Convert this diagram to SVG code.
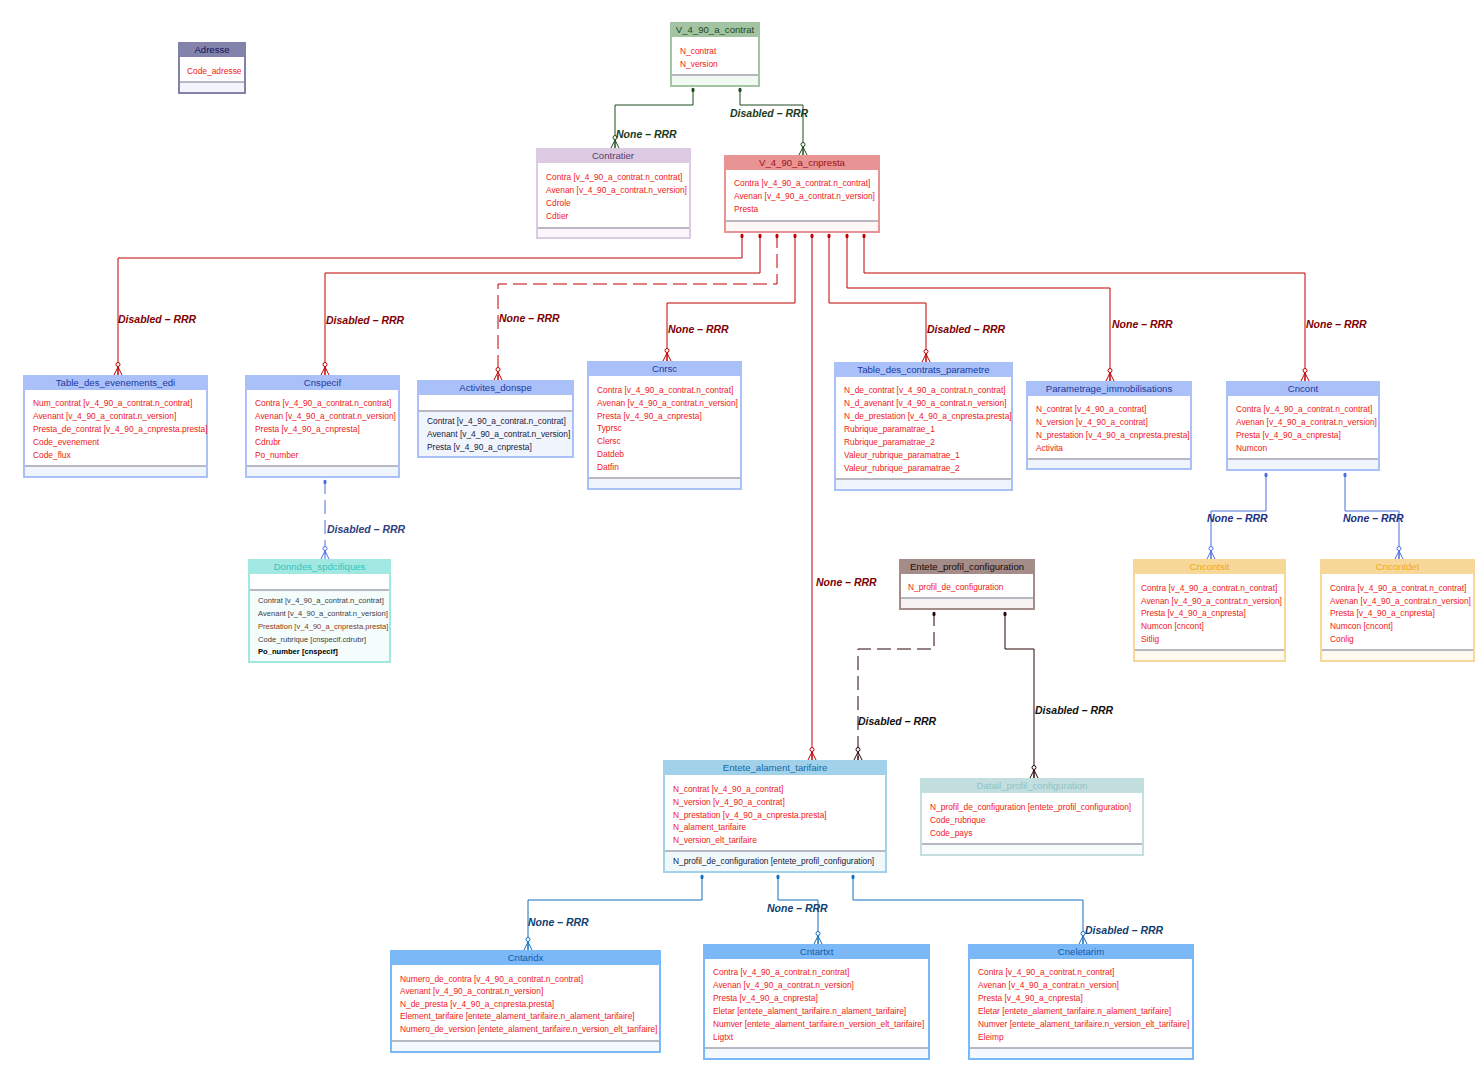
<svg xmlns="http://www.w3.org/2000/svg" width="1484" height="1074" viewBox="0 0 1484 1074">
<style>
text{font-family:"Liberation Sans",Arial,sans-serif}
.r{font-size:8.4px;fill:#f01818}
.d{font-size:8.4px;fill:#1a1a3a}
.h{font-size:9.6px;text-anchor:middle}
.sep{stroke:#b8b8c2;stroke-width:2}
.lbl{font-size:10.5px;font-style:italic;font-weight:bold}
.c{fill:none;stroke-width:1}
</style>
<defs>
<marker id="cr-g" viewBox="-14 -6 16 12" refX="0" refY="0" markerWidth="16" markerHeight="12" markerUnits="userSpaceOnUse" orient="auto"><g fill="none" stroke="#1e4a1e"><path d="M-8,0L0,-4M-8,0L0,0M-8,0L0,4"/><circle cx="-10.5" cy="0" r="2" fill="#fff"/></g></marker>
<marker id="cr-r" viewBox="-14 -6 16 12" refX="0" refY="0" markerWidth="16" markerHeight="12" markerUnits="userSpaceOnUse" orient="auto"><g fill="none" stroke="#c00000"><path d="M-8,0L0,-4M-8,0L0,0M-8,0L0,4"/><circle cx="-10.5" cy="0" r="2" fill="#fff"/></g></marker>
<marker id="cr-b" viewBox="-14 -6 16 12" refX="0" refY="0" markerWidth="16" markerHeight="12" markerUnits="userSpaceOnUse" orient="auto"><g fill="none" stroke="#4a6ee0"><path d="M-8,0L0,-4M-8,0L0,0M-8,0L0,4"/><circle cx="-10.5" cy="0" r="2" fill="#fff"/></g></marker>
<marker id="cr-k" viewBox="-14 -6 16 12" refX="0" refY="0" markerWidth="16" markerHeight="12" markerUnits="userSpaceOnUse" orient="auto"><g fill="none" stroke="#2a0606"><path d="M-8,0L0,-4M-8,0L0,0M-8,0L0,4"/><circle cx="-10.5" cy="0" r="2" fill="#fff"/></g></marker>
<marker id="cr-a" viewBox="-14 -6 16 12" refX="0" refY="0" markerWidth="16" markerHeight="12" markerUnits="userSpaceOnUse" orient="auto"><g fill="none" stroke="#1070c0"><path d="M-8,0L0,-4M-8,0L0,0M-8,0L0,4"/><circle cx="-10.5" cy="0" r="2" fill="#fff"/></g></marker>
<marker id="dt-g" viewBox="-3 -3 8 6" refX="0" refY="0" markerWidth="8" markerHeight="6" markerUnits="userSpaceOnUse" orient="auto"><ellipse cx="2" cy="0" rx="2.2" ry="1.6" fill="#1e4a1e"/></marker>
<marker id="dt-r" viewBox="-3 -3 8 6" refX="0" refY="0" markerWidth="8" markerHeight="6" markerUnits="userSpaceOnUse" orient="auto"><ellipse cx="2" cy="0" rx="2.2" ry="1.6" fill="#c00000"/></marker>
<marker id="dt-b" viewBox="-3 -3 8 6" refX="0" refY="0" markerWidth="8" markerHeight="6" markerUnits="userSpaceOnUse" orient="auto"><ellipse cx="2" cy="0" rx="2.2" ry="1.6" fill="#4a6ee0"/></marker>
<marker id="dt-k" viewBox="-3 -3 8 6" refX="0" refY="0" markerWidth="8" markerHeight="6" markerUnits="userSpaceOnUse" orient="auto"><ellipse cx="2" cy="0" rx="2.2" ry="1.6" fill="#2a0606"/></marker>
<marker id="dt-a" viewBox="-3 -3 8 6" refX="0" refY="0" markerWidth="8" markerHeight="6" markerUnits="userSpaceOnUse" orient="auto"><ellipse cx="2" cy="0" rx="2.2" ry="1.6" fill="#1070c0"/></marker>
</defs>
<rect width="1484" height="1074" fill="#fff"/>

<g id="connectors">
<path class="c" stroke="#1e4a1e" d="M693,88V105H615V148" marker-start="url(#dt-g)" marker-end="url(#cr-g)"/>
<path class="c" stroke="#1e4a1e" d="M740,88V105H803V155" marker-start="url(#dt-g)" marker-end="url(#cr-g)"/>
<path class="c" stroke="#c00000" d="M742,234V258H118V375" marker-start="url(#dt-r)" marker-end="url(#cr-r)"/>
<path class="c" stroke="#c00000" d="M760,234V273H325V375" marker-start="url(#dt-r)" marker-end="url(#cr-r)"/>
<path class="c" stroke="#c00000" stroke-dasharray="14 6" d="M777,234V284H498V380" marker-start="url(#dt-r)" marker-end="url(#cr-r)"/>
<path class="c" stroke="#c00000" d="M795,234V303H667V361" marker-start="url(#dt-r)" marker-end="url(#cr-r)"/>
<path class="c" stroke="#c00000" d="M812,234V760" marker-start="url(#dt-r)" marker-end="url(#cr-r)"/>
<path class="c" stroke="#c00000" d="M829,234V303H926V362" marker-start="url(#dt-r)" marker-end="url(#cr-r)"/>
<path class="c" stroke="#c00000" d="M847,234V288H1110V381" marker-start="url(#dt-r)" marker-end="url(#cr-r)"/>
<path class="c" stroke="#c00000" d="M864,234V273H1305V381" marker-start="url(#dt-r)" marker-end="url(#cr-r)"/>
<path class="c" stroke="#5070d0" stroke-dasharray="14 6" d="M325,480V559" marker-start="url(#dt-b)" marker-end="url(#cr-b)"/>
<path class="c" stroke="#4a6ee0" d="M1266,473V511H1211V559" marker-start="url(#dt-b)" marker-end="url(#cr-b)"/>
<path class="c" stroke="#4a6ee0" d="M1345,473V511H1399V559" marker-start="url(#dt-b)" marker-end="url(#cr-b)"/>
<path class="c" stroke="#2a0606" stroke-dasharray="14 6" d="M934,612V649H858V760" marker-start="url(#dt-k)" marker-end="url(#cr-k)"/>
<path class="c" stroke="#2a0606" d="M1005,612V649H1034V778" marker-start="url(#dt-k)" marker-end="url(#cr-k)"/>
<path class="c" stroke="#1070c0" d="M702,875V900H528V950" marker-start="url(#dt-a)" marker-end="url(#cr-a)"/>
<path class="c" stroke="#1070c0" d="M778,875V900H818V944" marker-start="url(#dt-a)" marker-end="url(#cr-a)"/>
<path class="c" stroke="#1070c0" d="M853,875V900H1083V944" marker-start="url(#dt-a)" marker-end="url(#cr-a)"/>
<text class="lbl" fill="#1a3a1a" x="616" y="138">None – RRR</text>
<text class="lbl" fill="#1a3a1a" x="730" y="117">Disabled – RRR</text>
<text class="lbl" fill="#800000" x="118" y="323">Disabled – RRR</text>
<text class="lbl" fill="#800000" x="326" y="324">Disabled – RRR</text>
<text class="lbl" fill="#800000" x="499" y="322">None – RRR</text>
<text class="lbl" fill="#800000" x="668" y="333">None – RRR</text>
<text class="lbl" fill="#800000" x="816" y="586">None – RRR</text>
<text class="lbl" fill="#800000" x="927" y="333">Disabled – RRR</text>
<text class="lbl" fill="#800000" x="1112" y="328">None – RRR</text>
<text class="lbl" fill="#800000" x="1306" y="328">None – RRR</text>
<text class="lbl" fill="#304080" x="327" y="533">Disabled – RRR</text>
<text class="lbl" fill="#203080" x="1207" y="522">None – RRR</text>
<text class="lbl" fill="#203080" x="1343" y="522">None – RRR</text>
<text class="lbl" fill="#101010" x="858" y="725">Disabled – RRR</text>
<text class="lbl" fill="#101010" x="1035" y="714">Disabled – RRR</text>
<text class="lbl" fill="#104070" x="528" y="926">None – RRR</text>
<text class="lbl" fill="#104070" x="767" y="912">None – RRR</text>
<text class="lbl" fill="#104070" x="1085" y="934">Disabled – RRR</text>
</g>

<g id="Adresse">
<rect x="179" y="43" width="66" height="50" fill="#fff" stroke="#8282aa" stroke-width="2"/>
<rect x="178" y="42" width="68" height="15" fill="#8282aa"/>
<rect x="180" y="83" width="64" height="9" fill="#f4f4fc"/>
<line class="sep" x1="180" y1="82" x2="244" y2="82"/>
<text class="h" fill="#14145a" x="212" y="53">Adresse</text>
<text class="r" x="187" y="74">Code_adresse</text>
</g>

<g id="V_4_90_a_contrat">
<rect x="671" y="23" width="88" height="63" fill="#fff" stroke="#a2c4a2" stroke-width="2"/>
<rect x="670" y="22" width="90" height="15" fill="#a2c4a2"/>
<rect x="672" y="76" width="86" height="9" fill="#f2f8f2"/>
<line class="sep" x1="672" y1="75" x2="758" y2="75"/>
<text class="h" fill="#1e4a1e" x="715" y="33">V_4_90_a_contrat</text>
<text class="r" x="680" y="54">N_contrat</text>
<text class="r" x="680" y="67">N_version</text>
</g>

<g id="Contratier">
<rect x="537" y="149" width="153" height="89" fill="#fff" stroke="#dccae2" stroke-width="2"/>
<rect x="536" y="148" width="155" height="15" fill="#dccae2"/>
<rect x="538" y="229" width="151" height="8" fill="#fcf6fc"/>
<line class="sep" x1="538" y1="228" x2="689" y2="228"/>
<text class="h" fill="#5a3a6a" x="613" y="159">Contratier</text>
<text class="r" x="546" y="180">Contra [v_4_90_a_contrat.n_contrat]</text>
<text class="r" x="546" y="193">Avenan [v_4_90_a_contrat.n_version]</text>
<text class="r" x="546" y="206">Cdrole</text>
<text class="r" x="546" y="219">Cdtier</text>
</g>

<g id="V_4_90_a_cnpresta">
<rect x="725" y="156" width="154" height="76" fill="#fff" stroke="#e89494" stroke-width="2"/>
<rect x="724" y="155" width="156" height="15" fill="#e89494"/>
<rect x="726" y="222" width="152" height="9" fill="#fff6f6"/>
<line class="sep" x1="726" y1="221" x2="878" y2="221"/>
<text class="h" fill="#a01010" x="802" y="166">V_4_90_a_cnpresta</text>
<text class="r" x="734" y="186">Contra [v_4_90_a_contrat.n_contrat]</text>
<text class="r" x="734" y="199">Avenan [v_4_90_a_contrat.n_version]</text>
<text class="r" x="734" y="212">Presta</text>
</g>

<g id="Table_des_evenements_edi">
<rect x="24" y="376" width="183" height="101" fill="#fff" stroke="#aac0f8" stroke-width="2"/>
<rect x="23" y="375" width="185" height="15" fill="#aac0f8"/>
<rect x="25" y="467" width="181" height="9" fill="#f0f4fc"/>
<line class="sep" x1="25" y1="466" x2="206" y2="466"/>
<text class="h" fill="#1a3aa0" x="115.5" y="386">Table_des_evenements_edi</text>
<text class="r" x="33" y="406">Num_contrat [v_4_90_a_contrat.n_contrat]</text>
<text class="r" x="33" y="419">Avenant [v_4_90_a_contrat.n_version]</text>
<text class="r" x="33" y="432">Presta_de_contrat [v_4_90_a_cnpresta.presta]</text>
<text class="r" x="33" y="445">Code_evenement</text>
<text class="r" x="33" y="458">Code_flux</text>
</g>

<g id="Cnspecif">
<rect x="246" y="376" width="153" height="101" fill="#fff" stroke="#aac0f8" stroke-width="2"/>
<rect x="245" y="375" width="155" height="15" fill="#aac0f8"/>
<rect x="247" y="467" width="151" height="9" fill="#f0f4fc"/>
<line class="sep" x1="247" y1="466" x2="398" y2="466"/>
<text class="h" fill="#1a3aa0" x="322.5" y="386">Cnspecif</text>
<text class="r" x="255" y="406">Contra [v_4_90_a_contrat.n_contrat]</text>
<text class="r" x="255" y="419">Avenan [v_4_90_a_contrat.n_version]</text>
<text class="r" x="255" y="432">Presta [v_4_90_a_cnpresta]</text>
<text class="r" x="255" y="445">Cdrubr</text>
<text class="r" x="255" y="458">Po_number</text>
</g>

<g id="Activites_donspe">
<rect x="418" y="381" width="155" height="76" fill="#fff" stroke="#aac0f8" stroke-width="2"/>
<rect x="417" y="380" width="157" height="15" fill="#aac0f8"/>
<rect x="419" y="412" width="153" height="44" fill="#f0f4fc"/>
<line class="sep" x1="419" y1="411" x2="572" y2="411"/>
<text class="h" fill="#1a3aa0" x="495.5" y="391">Activites_donspe</text>
<text class="d" x="427" y="424">Contrat [v_4_90_a_contrat.n_contrat]</text>
<text class="d" x="427" y="437">Avenant [v_4_90_a_contrat.n_version]</text>
<text class="d" x="427" y="450">Presta [v_4_90_a_cnpresta]</text>
</g>

<g id="Cnrsc">
<rect x="588" y="362" width="153" height="127" fill="#fff" stroke="#aac0f8" stroke-width="2"/>
<rect x="587" y="361" width="155" height="15" fill="#aac0f8"/>
<rect x="589" y="479" width="151" height="9" fill="#f0f4fc"/>
<line class="sep" x1="589" y1="478" x2="740" y2="478"/>
<text class="h" fill="#1a3aa0" x="664.5" y="372">Cnrsc</text>
<text class="r" x="597" y="393">Contra [v_4_90_a_contrat.n_contrat]</text>
<text class="r" x="597" y="406">Avenan [v_4_90_a_contrat.n_version]</text>
<text class="r" x="597" y="419">Presta [v_4_90_a_cnpresta]</text>
<text class="r" x="597" y="431">Typrsc</text>
<text class="r" x="597" y="444">Clersc</text>
<text class="r" x="597" y="457">Datdeb</text>
<text class="r" x="597" y="470">Datfin</text>
</g>

<g id="Table_des_contrats_parametre">
<rect x="835" y="363" width="177" height="127" fill="#fff" stroke="#aac0f8" stroke-width="2"/>
<rect x="834" y="362" width="179" height="15" fill="#aac0f8"/>
<rect x="836" y="480" width="175" height="9" fill="#f0f4fc"/>
<line class="sep" x1="836" y1="479" x2="1011" y2="479"/>
<text class="h" fill="#1a3aa0" x="923.5" y="373">Table_des_contrats_parametre</text>
<text class="r" x="844" y="393">N_de_contrat [v_4_90_a_contrat.n_contrat]</text>
<text class="r" x="844" y="406">N_d_avenant [v_4_90_a_contrat.n_version]</text>
<text class="r" x="844" y="419">N_de_prestation [v_4_90_a_cnpresta.presta]</text>
<text class="r" x="844" y="432">Rubrique_paramatrae_1</text>
<text class="r" x="844" y="445">Rubrique_paramatrae_2</text>
<text class="r" x="844" y="458">Valeur_rubrique_paramatrae_1</text>
<text class="r" x="844" y="471">Valeur_rubrique_paramatrae_2</text>
</g>

<g id="Parametrage_immobilisations">
<rect x="1027" y="382" width="164" height="87" fill="#fff" stroke="#aac0f8" stroke-width="2"/>
<rect x="1026" y="381" width="166" height="15" fill="#aac0f8"/>
<rect x="1028" y="460" width="162" height="8" fill="#f0f4fc"/>
<line class="sep" x1="1028" y1="459" x2="1190" y2="459"/>
<text class="h" fill="#1a3aa0" x="1109" y="392">Parametrage_immobilisations</text>
<text class="r" x="1036" y="412">N_contrat [v_4_90_a_contrat]</text>
<text class="r" x="1036" y="425">N_version [v_4_90_a_contrat]</text>
<text class="r" x="1036" y="438">N_prestation [v_4_90_a_cnpresta.presta]</text>
<text class="r" x="1036" y="451">Activita</text>
</g>

<g id="Cncont">
<rect x="1227" y="382" width="152" height="88" fill="#fff" stroke="#aac0f8" stroke-width="2"/>
<rect x="1226" y="381" width="154" height="15" fill="#aac0f8"/>
<rect x="1228" y="460" width="150" height="9" fill="#f0f4fc"/>
<line class="sep" x1="1228" y1="459" x2="1378" y2="459"/>
<text class="h" fill="#1a3aa0" x="1303" y="392">Cncont</text>
<text class="r" x="1236" y="412">Contra [v_4_90_a_contrat.n_contrat]</text>
<text class="r" x="1236" y="425">Avenan [v_4_90_a_contrat.n_version]</text>
<text class="r" x="1236" y="438">Presta [v_4_90_a_cnpresta]</text>
<text class="r" x="1236" y="451">Numcon</text>
</g>

<g id="Cncontsit">
<rect x="1134" y="560" width="151" height="101" fill="#fff" stroke="#f8d898" stroke-width="2"/>
<rect x="1133" y="559" width="153" height="15" fill="#f8d898"/>
<rect x="1135" y="651" width="149" height="9" fill="#fffaf0"/>
<line class="sep" x1="1135" y1="650" x2="1284" y2="650"/>
<text class="h" fill="#f0a818" x="1209.5" y="570">Cncontsit</text>
<text class="r" x="1141" y="591">Contra [v_4_90_a_contrat.n_contrat]</text>
<text class="r" x="1141" y="604">Avenan [v_4_90_a_contrat.n_version]</text>
<text class="r" x="1141" y="616">Presta [v_4_90_a_cnpresta]</text>
<text class="r" x="1141" y="629">Numcon [cncont]</text>
<text class="r" x="1141" y="642">Sitlig</text>
</g>

<g id="Cncontdet">
<rect x="1321" y="560" width="153" height="101" fill="#fff" stroke="#f8d898" stroke-width="2"/>
<rect x="1320" y="559" width="155" height="15" fill="#f8d898"/>
<rect x="1322" y="651" width="151" height="9" fill="#fffaf0"/>
<line class="sep" x1="1322" y1="650" x2="1473" y2="650"/>
<text class="h" fill="#f0a818" x="1397.5" y="570">Cncontdet</text>
<text class="r" x="1330" y="591">Contra [v_4_90_a_contrat.n_contrat]</text>
<text class="r" x="1330" y="604">Avenan [v_4_90_a_contrat.n_version]</text>
<text class="r" x="1330" y="616">Presta [v_4_90_a_cnpresta]</text>
<text class="r" x="1330" y="629">Numcon [cncont]</text>
<text class="r" x="1330" y="642">Conlig</text>
</g>

<g id="Donndes_spdcifiques">
<rect x="249" y="560" width="141" height="102" fill="#fff" stroke="#a2e8e2" stroke-width="2"/>
<rect x="248" y="559" width="143" height="15" fill="#a2e8e2"/>
<rect x="250" y="591" width="139" height="70" fill="#f4fcfc"/>
<line class="sep" x1="250" y1="590" x2="389" y2="590"/>
<text class="h" fill="#36c4c0" x="319.5" y="570">Donndes_spdcifiques</text>
<text style="font-size:7.6px" fill="#404040" x="258" y="603">Contrat [v_4_90_a_contrat.n_contrat]</text>
<text style="font-size:7.6px" fill="#404040" x="258" y="616">Avenant [v_4_90_a_contrat.n_version]</text>
<text style="font-size:7.6px" fill="#8a3a10" x="258" y="629">Prestation [v_4_90_a_cnpresta.presta]</text>
<text style="font-size:7.6px" fill="#404040" x="258" y="642">Code_rubrique [cnspecif.cdrubr]</text>
<text style="font-size:7.6px;font-weight:bold" fill="#000" x="258" y="654">Po_number [cnspecif]</text>
</g>

<g id="Entete_profil_configuration">
<rect x="900" y="560" width="134" height="49" fill="#fff" stroke="#a48c88" stroke-width="2"/>
<rect x="899" y="559" width="136" height="15" fill="#a48c88"/>
<rect x="901" y="599" width="132" height="9" fill="#f6f2f2"/>
<line class="sep" x1="901" y1="598" x2="1033" y2="598"/>
<text class="h" fill="#1a0a0a" x="967" y="570">Entete_profil_configuration</text>
<text class="r" x="908" y="590">N_profil_de_configuration</text>
</g>

<g id="Datail_profil_configuration">
<rect x="921" y="779" width="222" height="76" fill="#fff" stroke="#c2dede" stroke-width="2"/>
<rect x="920" y="778" width="224" height="15" fill="#c2dede"/>
<rect x="922" y="845" width="220" height="9" fill="#f8fcfc"/>
<line class="sep" x1="922" y1="844" x2="1142" y2="844"/>
<text class="h" fill="#90c4c8" x="1032" y="789">Datail_profil_configuration</text>
<text class="r" x="930" y="810">N_profil_de_configuration [entete_profil_configuration]</text>
<text class="r" x="930" y="823">Code_rubrique</text>
<text class="r" x="930" y="836">Code_pays</text>
</g>

<g id="Entete_alament_tarifaire">
<rect x="664" y="761" width="222" height="111" fill="#fff" stroke="#a2d2ea" stroke-width="2"/>
<rect x="663" y="760" width="224" height="15" fill="#a2d2ea"/>
<rect x="665" y="852" width="220" height="19" fill="#f0f8fc"/>
<line class="sep" x1="665" y1="851" x2="885" y2="851"/>
<text class="h" fill="#1268a8" x="775" y="771">Entete_alament_tarifaire</text>
<text class="r" x="673" y="792">N_contrat [v_4_90_a_contrat]</text>
<text class="r" x="673" y="805">N_version [v_4_90_a_contrat]</text>
<text class="r" x="673" y="818">N_prestation [v_4_90_a_cnpresta.presta]</text>
<text class="r" x="673" y="830">N_alament_tarifaire</text>
<text class="r" x="673" y="843">N_version_elt_tarifaire</text>
<text class="d" x="673" y="864">N_profil_de_configuration [entete_profil_configuration]</text>
</g>

<g id="Cntaridx">
<rect x="391" y="951" width="269" height="101" fill="#fff" stroke="#7ab8f8" stroke-width="2"/>
<rect x="390" y="950" width="271" height="15" fill="#7ab8f8"/>
<rect x="392" y="1042" width="267" height="9" fill="#f4f8ff"/>
<line class="sep" x1="392" y1="1041" x2="659" y2="1041"/>
<text class="h" fill="#1458a8" x="525.5" y="961">Cntaridx</text>
<text class="r" x="400" y="982">Numero_de_contra [v_4_90_a_contrat.n_contrat]</text>
<text class="r" x="400" y="994">Avenant [v_4_90_a_contrat.n_version]</text>
<text class="r" x="400" y="1007">N_de_presta [v_4_90_a_cnpresta.presta]</text>
<text class="r" x="400" y="1019">Element_tarifaire [entete_alament_tarifaire.n_alament_tarifaire]</text>
<text class="r" x="400" y="1032">Numero_de_version [entete_alament_tarifaire.n_version_elt_tarifaire]</text>
</g>

<g id="Cntartxt">
<rect x="704" y="945" width="225" height="114" fill="#fff" stroke="#7ab8f8" stroke-width="2"/>
<rect x="703" y="944" width="227" height="15" fill="#7ab8f8"/>
<rect x="705" y="1049" width="223" height="9" fill="#f4f8ff"/>
<line class="sep" x1="705" y1="1048" x2="928" y2="1048"/>
<text class="h" fill="#1458a8" x="816.5" y="955">Cntartxt</text>
<text class="r" x="713" y="975">Contra [v_4_90_a_contrat.n_contrat]</text>
<text class="r" x="713" y="988">Avenan [v_4_90_a_contrat.n_version]</text>
<text class="r" x="713" y="1001">Presta [v_4_90_a_cnpresta]</text>
<text class="r" x="713" y="1014">Eletar [entete_alament_tarifaire.n_alament_tarifaire]</text>
<text class="r" x="713" y="1027">Numver [entete_alament_tarifaire.n_version_elt_tarifaire]</text>
<text class="r" x="713" y="1040">Ligtxt</text>
</g>

<g id="Cneletarim">
<rect x="969" y="945" width="224" height="114" fill="#fff" stroke="#7ab8f8" stroke-width="2"/>
<rect x="968" y="944" width="226" height="15" fill="#7ab8f8"/>
<rect x="970" y="1049" width="222" height="9" fill="#f4f8ff"/>
<line class="sep" x1="970" y1="1048" x2="1192" y2="1048"/>
<text class="h" fill="#1458a8" x="1081" y="955">Cneletarim</text>
<text class="r" x="978" y="975">Contra [v_4_90_a_contrat.n_contrat]</text>
<text class="r" x="978" y="988">Avenan [v_4_90_a_contrat.n_version]</text>
<text class="r" x="978" y="1001">Presta [v_4_90_a_cnpresta]</text>
<text class="r" x="978" y="1014">Eletar [entete_alament_tarifaire.n_alament_tarifaire]</text>
<text class="r" x="978" y="1027">Numver [entete_alament_tarifaire.n_version_elt_tarifaire]</text>
<text class="r" x="978" y="1040">Eleimp</text>
</g>
</svg>
